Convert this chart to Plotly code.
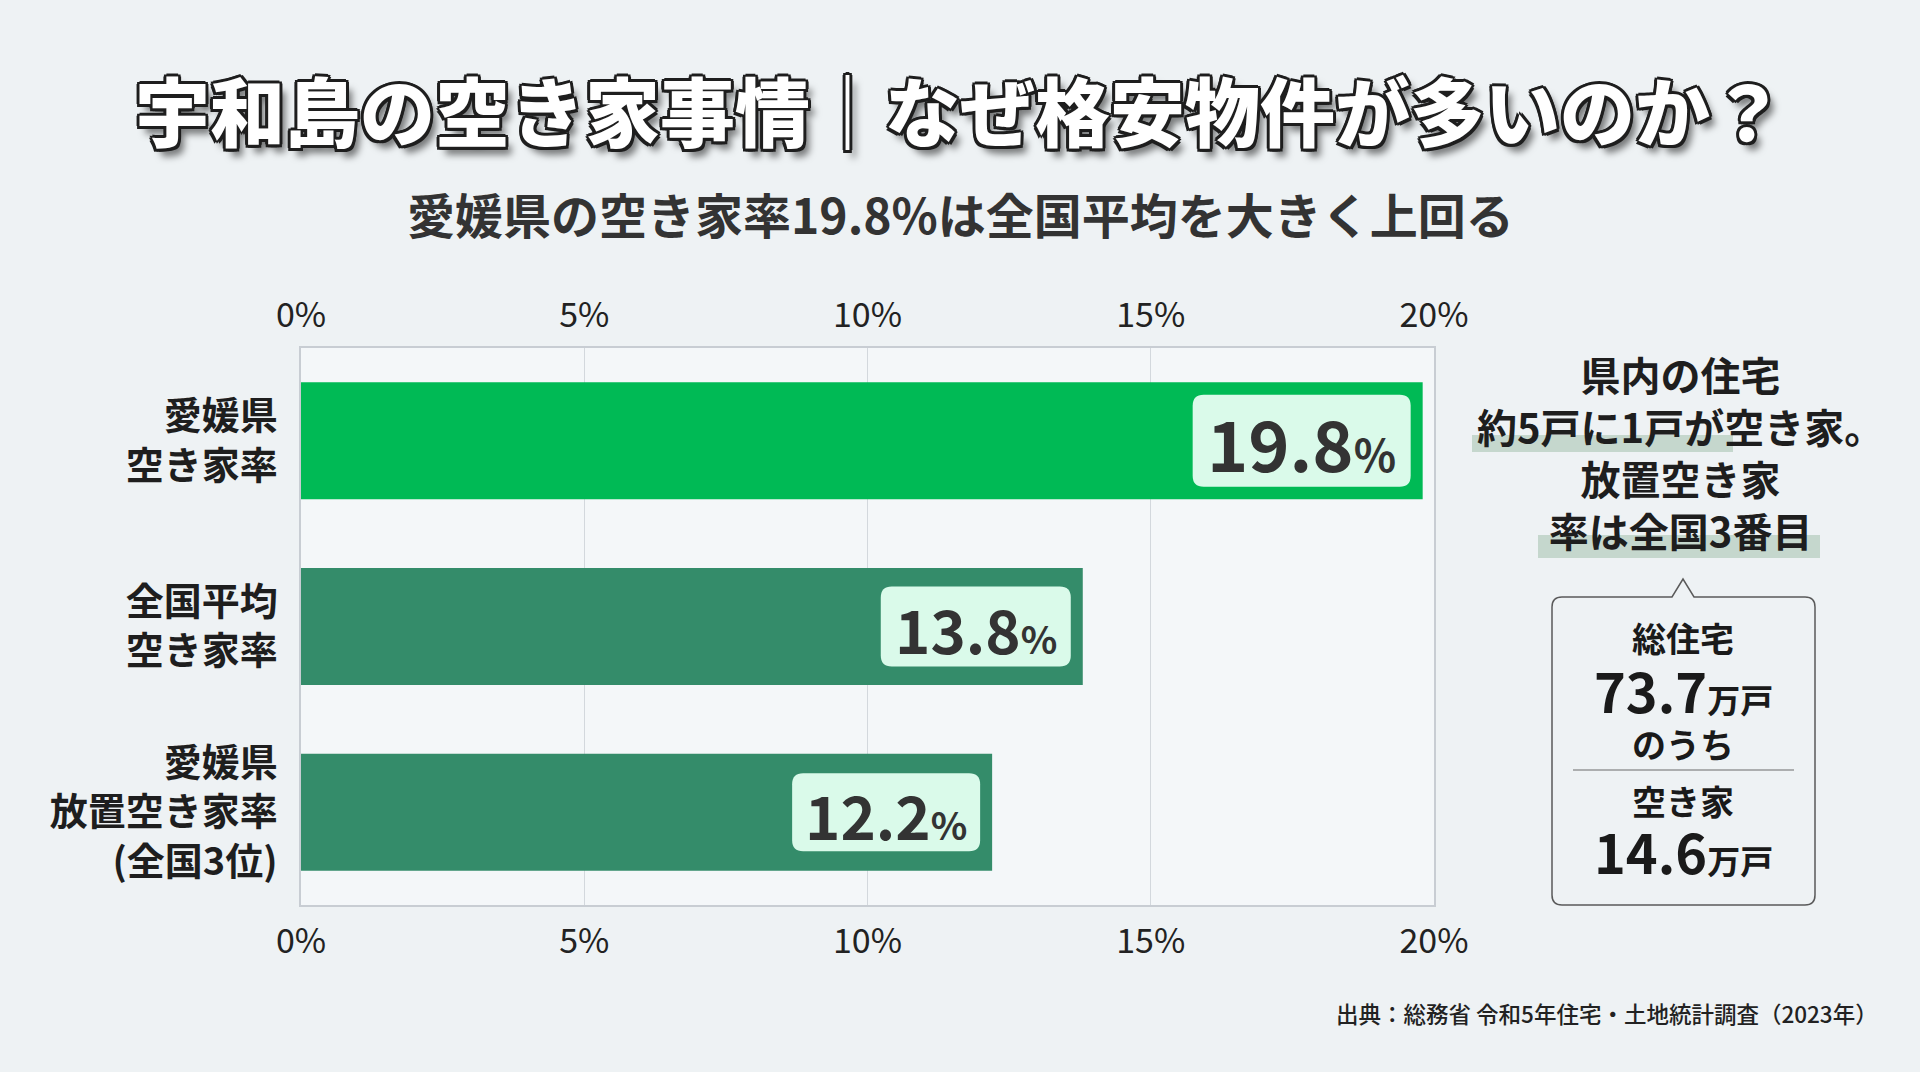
import plotly.graph_objects as go

# ---- data ----
categories = ["愛媛県<br>空き家率", "全国平均<br>空き家率", "愛媛県<br>放置空き家率<br>(全国3位)"]
values = [19.8, 13.8, 12.2]
bar_colors = ["#00BA55", "#348C6A", "#348C6A"]
x_tick_vals = [0, 5, 10, 15, 20]
x_tick_text = ["0%", "5%", "10%", "15%", "20%"]

title_text = "宇和島の空き家事情｜なぜ格安物件が多いのか？"
subtitle_text = "愛媛県の空き家率19.8%は全国平均を大きく上回る"
side_lines = ["県内の住宅", "約5戸に1戸が空き家。", "放置空き家", "率は全国3番目"]
total_houses = "73.7"
vacant_houses = "14.6"
source_text = "出典：総務省 令和5年住宅・土地統計調査（2023年）"

FONT = "Noto Sans CJK JP"
W, H = 1920, 1072
L, R, T, B = 301, 1434, 348, 905  # plot area in px


def px(xp):
    return (xp - L) / (R - L)


def py(yp):
    return (B - yp) / (B - T)


ypos = list(range(len(categories)))

fig = go.Figure()
fig.add_trace(go.Bar(
    x=values, y=ypos, orientation="h", width=0.63,
    marker=dict(color=bar_colors, line=dict(width=0)),
    hoverinfo="skip", showlegend=False,
))
# invisible trace for the top axis
fig.add_trace(go.Scatter(x=[0, 20], y=[0, 0], xaxis="x2", mode="markers",
                         marker=dict(opacity=0), hoverinfo="skip", showlegend=False))

shapes = []
annotations = []


def rrect_pixel(x0, y0, x1, y1, r):
    return (f"M{x0+r},{y0} L{x1-r},{y0} Q{x1},{y0} {x1},{y0+r} L{x1},{y1-r} "
            f"Q{x1},{y1} {x1-r},{y1} L{x0+r},{y1} Q{x0},{y1} {x0},{y1-r} "
            f"L{x0},{y0+r} Q{x0},{y0} {x0+r},{y0} Z")


# value label boxes
box_sizes = [(218, 92, 70, 44), (190, 80, 60, 38), (188, 78, 60, 38)]
gap = 12
for i, v in enumerate(values):
    w, h, fs, pfs = box_sizes[i]
    shapes.append(dict(
        type="path", xref="x", yref="y", xsizemode="pixel", ysizemode="pixel",
        xanchor=v, yanchor=i,
        path=rrect_pixel(-gap - w, -h / 2, -gap, h / 2, 11),
        fillcolor="#DAFAEA", line=dict(width=0), layer="above",
    ))
    annotations.append(dict(
        x=v, y=i, xref="x", yref="y", xanchor="center", yanchor="middle",
        xshift=-(gap + w / 2), yshift=-1, showarrow=False,
        text=f"<b>{v:.1f}</b><span style='font-size:{pfs}px'>%</span>",
        font=dict(family=FONT, size=fs, color="#333333", weight=700),
    ))

# title
annotations.append(dict(
    x=px(960), y=py(109), xref="paper", yref="paper", showarrow=False,
    xanchor="center", yanchor="middle", text=title_text,
    font=dict(family=FONT, size=75, color="#FFFFFF", weight=900,
              shadow="-2.5px -2.5px 0 #1E1E1E, 2.5px -2.5px 0 #1E1E1E, -2.5px 2.5px 0 #1E1E1E, "
                     "2.5px 2.5px 0 #1E1E1E, 0 -3px 0 #1E1E1E, 0 3px 0 #1E1E1E, -3px 0 0 #1E1E1E, "
                     "3px 0 0 #1E1E1E, 6px 8px 7px rgba(0,0,0,0.5)"),
))
# subtitle
annotations.append(dict(
    x=px(960), y=py(213), xref="paper", yref="paper", showarrow=False,
    xanchor="center", yanchor="middle", text=subtitle_text,
    font=dict(family=FONT, size=48, color="#333333", weight=700),
))

# right side highlights
shapes.append(dict(type="rect", xref="paper", yref="paper",
                   x0=px(1472), x1=px(1733), y0=py(452), y1=py(435),
                   fillcolor="#C5D7CD", line=dict(width=0), layer="above"))
shapes.append(dict(type="rect", xref="paper", yref="paper",
                   x0=px(1538), x1=px(1820), y0=py(558), y1=py(535),
                   fillcolor="#C5D7CD", line=dict(width=0), layer="above"))
annotations.append(dict(
    x=px(1680), y=py(452), xref="paper", yref="paper", showarrow=False,
    xanchor="center", yanchor="middle", text="<br>".join(side_lines),
    font=dict(family=FONT, size=40, color="#1E1E1E", weight=700),
))

# callout box with pointer
bx0, bx1, by0, by1, r = 1552, 1815, 597, 905, 10
tx, tw, th = 1683, 11, 18


def P(xp, yp):
    return f"{px(xp)},{py(yp)}"


callout = (f"M{P(bx0 + r, by0)} L{P(tx - tw, by0)} L{P(tx, by0 - th)} L{P(tx + tw, by0)} "
           f"L{P(bx1 - r, by0)} Q{P(bx1, by0)} {P(bx1, by0 + r)} L{P(bx1, by1 - r)} "
           f"Q{P(bx1, by1)} {P(bx1 - r, by1)} L{P(bx0 + r, by1)} Q{P(bx0, by1)} {P(bx0, by1 - r)} "
           f"L{P(bx0, by0 + r)} Q{P(bx0, by0)} {P(bx0 + r, by0)} Z")
shapes.append(dict(type="path", xref="paper", yref="paper", path=callout,
                   fillcolor="rgba(0,0,0,0)", line=dict(color="#5A5A5A", width=1.5), layer="above"))
shapes.append(dict(type="line", xref="paper", yref="paper",
                   x0=px(1573), x1=px(1794), y0=py(770), y1=py(770),
                   line=dict(color="#6A6A6A", width=1.2), layer="above"))

box_texts = [
    ("総住宅", 637, 34),
    (f"{total_houses}<span style='font-size:33px'>万戸</span>", 689, 54),
    ("のうち", 743, 34),
    ("空き家", 800, 34),
    (f"{vacant_houses}<span style='font-size:33px'>万戸</span>", 850, 54),
]
for txt, yc, fs in box_texts:
    annotations.append(dict(
        x=px(1683), y=py(yc), xref="paper", yref="paper", showarrow=False,
        xanchor="center", yanchor="middle", text=txt,
        font=dict(family=FONT, size=fs, color="#1A1A1A", weight=700),
    ))

# source
annotations.append(dict(
    x=px(1880), y=py(1013), xref="paper", yref="paper", showarrow=False,
    xanchor="right", yanchor="middle", text=source_text,
    font=dict(family=FONT, size=22.5, color="#222222", weight=500),
))

axis_common = dict(
    range=[0, 20], tickvals=x_tick_vals, ticktext=x_tick_text,
    tickfont=dict(family=FONT, size=34, color="#222222"),
    showgrid=True, gridcolor="#D3D8DD", gridwidth=1, zeroline=False,
    ticks="", fixedrange=True,
)

fig.update_layout(
    width=W, height=H,
    margin=dict(l=L, r=W - R, t=T, b=H - B),
    paper_bgcolor="#EEF2F4", plot_bgcolor="#F4F7F9",
    xaxis=dict(**axis_common, side="bottom", showline=True, linecolor="#C8CDD3",
               linewidth=1.5, mirror=True, ticklabelstandoff=5),
    xaxis2=dict(**axis_common, side="top", overlaying="x", matches="x",
                showline=False, ticklabelstandoff=13),
    yaxis=dict(range=[2.5, -0.5], tickvals=ypos, ticktext=categories,
               tickfont=dict(family=FONT, size=38, color="#1E1E1E", weight=700),
               showgrid=False, zeroline=False, showline=True, linecolor="#C8CDD3",
               linewidth=1.5, mirror=True, ticks="", ticklabelstandoff=14, fixedrange=True),
    shapes=shapes, annotations=annotations,
    bargap=0.37,
)

fig.write_html("out.html")
